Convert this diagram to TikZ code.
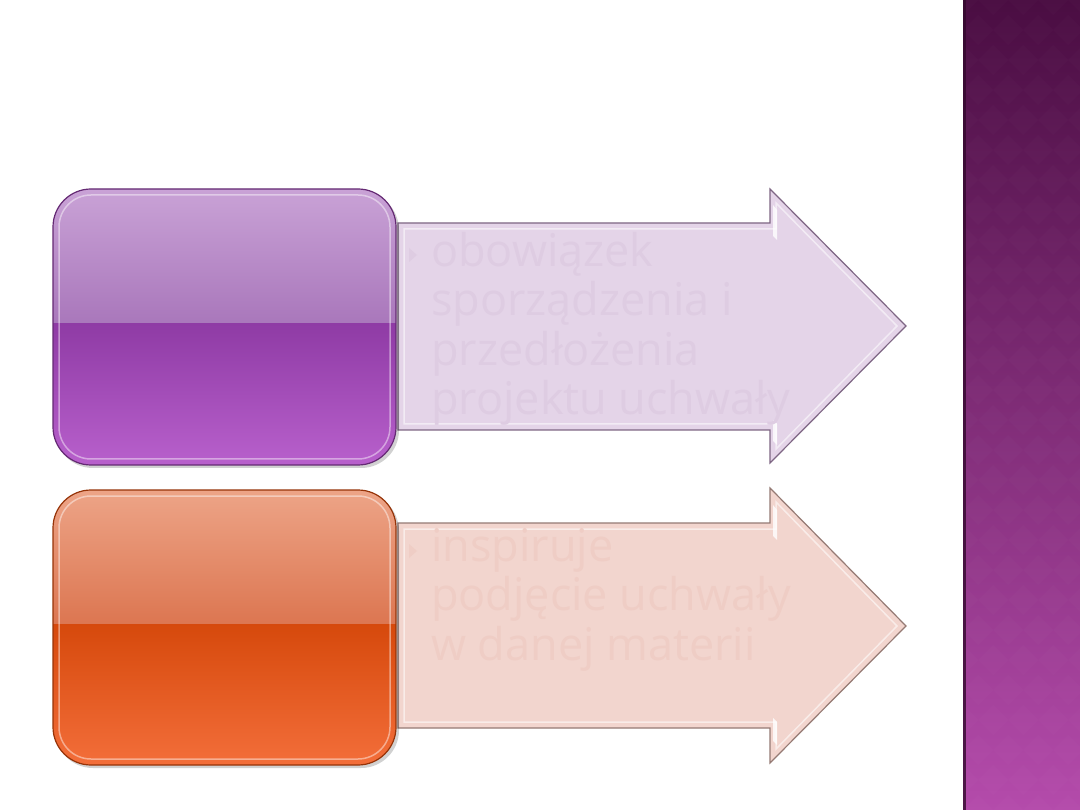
\documentclass[tikz,border=0pt]{standalone}
\usepackage{fontspec}
\setmainfont{Open Sans}
\definecolor{pTop}{HTML}{C9A2D6}
\definecolor{pMidA}{HTML}{A977BB}
\definecolor{pMidB}{HTML}{8F3BA5}
\definecolor{pBot}{HTML}{B860CC}
\definecolor{oTop}{HTML}{EDA487}
\definecolor{oMidA}{HTML}{DC7651}
\definecolor{oMidB}{HTML}{D6490C}
\definecolor{oBot}{HTML}{F36E3A}
\definecolor{pArrow}{HTML}{E4D4E8}
\definecolor{pArrowEdge}{HTML}{7E6684}
\definecolor{pText}{HTML}{DECCE2}
\definecolor{oArrow}{HTML}{F2D5CE}
\definecolor{oArrowEdge}{HTML}{957A74}
\definecolor{oText}{HTML}{EFCDC5}
\definecolor{panTop}{HTML}{4A0D42}
\definecolor{panBot}{HTML}{B44BAB}
\tikzset{
  arrowshape/.style={line width=1.2pt, line join=miter},
  bevel/.style={draw=white, draw opacity=0.55, line width=1.5pt},
  arrowtext/.style={anchor=north west, inner sep=0pt, align=left,
    font=\fontsize{45}{49.5}\selectfont},
  boxedge/.style={line width=1.2pt},
}
\begin{document}
\begin{tikzpicture}[x=1pt,y=-1pt]
\useasboundingbox (0,0) rectangle (1080,810);
\fill[white] (0,0) rectangle (1080,810);

% ---------- right panel ----------
\shade[top color=panTop, bottom color=panBot] (963,0) rectangle (1080,810);
\begin{scope}
\clip (963,0) rectangle (1080,810);
\foreach \i in {0,...,5}{
  \foreach \j in {0,...,28}{
    \pgfmathsetmacro{\cx}{963+\i*30+mod(\j,2)*15}
    \pgfmathsetmacro{\cy}{\j*30}
    \fill[white, fill opacity=0.014] (\cx,\cy-15) -- (\cx+15,\cy) -- (\cx,\cy+15) -- (\cx-15,\cy) -- cycle;
  }
}
\end{scope}
\fill[panTop!70!black, opacity=0.8] (963,0) rectangle (966,810);

% ---------- arrow 1 (purple) ----------
\draw[arrowshape, fill=pArrow, draw=pArrowEdge]
  (398,223) -- (770,223) -- (770,189) -- (906,326) -- (770,463) -- (770,430) -- (398,430) -- cycle;
\draw[bevel] (404,229) -- (776,229) -- (776,203) -- (897,326) -- (776,449) -- (776,424) -- (404,424) -- cycle;
\fill[white, opacity=0.8] (773,205) -- (777,210) -- (777,240) -- (773,236) -- cycle;
\fill[white, opacity=0.8] (773,420) -- (777,424) -- (777,445) -- (773,441) -- cycle;
\fill[pText] (409,248) -- (417,255) -- (409,262) -- cycle;
\node[arrowtext, text=pText] (t1) at (431,232)
  {obowiązek\\sporządzenia i\\przedłożenia\\projektu uchwały};

% ---------- arrow 2 (orange) ----------
\draw[arrowshape, fill=oArrow, draw=oArrowEdge]
  (398,523) -- (770,523) -- (770,488) -- (906,626) -- (770,763) -- (770,728) -- (398,728) -- cycle;
\draw[bevel] (404,529) -- (776,529) -- (776,502) -- (897,626) -- (776,749) -- (776,722) -- (404,722) -- cycle;
\fill[white, opacity=0.8] (773,505) -- (777,510) -- (777,540) -- (773,536) -- cycle;
\fill[white, opacity=0.8] (773,718) -- (777,722) -- (777,745) -- (773,741) -- cycle;
\fill[oText] (409,544) -- (417,551) -- (409,558) -- cycle;
\node[arrowtext, text=oText] (t2) at (431,528)
  {inspiruje\\podjęcie uchwały\\w danej materii};

% ---------- purple box ----------
\fill[black, opacity=0.18, rounded corners=38pt] (55,192) rectangle (399,468);
\begin{scope}
\clip[rounded corners=38pt] (53,189) rectangle (396,465);
\shade[top color=pTop, bottom color=pMidA] (53,189) rectangle (396,324);
\shade[top color=pMidB, bottom color=pBot] (53,324) rectangle (396,465);
\end{scope}
\draw[boxedge, draw=pMidB!70!black, rounded corners=38pt] (53,189) rectangle (396,465);
\draw[white, opacity=0.45, line width=1.5pt, rounded corners=32pt] (59,195) rectangle (390,459);

% ---------- orange box ----------
\fill[black, opacity=0.18, rounded corners=38pt] (55,493) rectangle (399,768);
\begin{scope}
\clip[rounded corners=38pt] (53,490) rectangle (396,765);
\shade[top color=oTop, bottom color=oMidA] (53,490) rectangle (396,624);
\shade[top color=oMidB, bottom color=oBot] (53,624) rectangle (396,765);
\end{scope}
\draw[boxedge, draw=oMidB!70!black, rounded corners=38pt] (53,490) rectangle (396,765);
\draw[white, opacity=0.45, line width=1.5pt, rounded corners=32pt] (59,496) rectangle (390,759);
\end{tikzpicture}
\end{document}
